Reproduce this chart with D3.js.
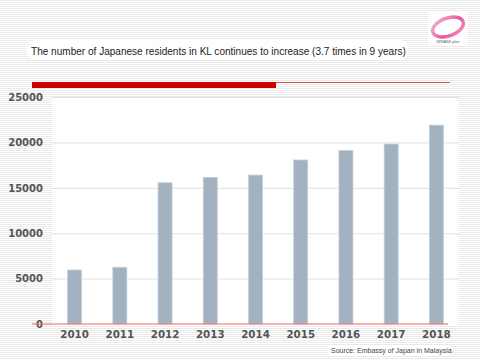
<!DOCTYPE html>
<html><head><meta charset="utf-8">
<script src="https://cdn.jsdelivr.net/npm/d3@7"></script>
<style>html,body{margin:0;padding:0;background:#fff}svg{display:block}</style>
</head><body>
<svg id="c" width="480" height="360"></svg>
<script>
const years = ["2010","2011","2012","2013","2014","2015","2016","2017","2018"];
const residents = [5950, 6250, 15560, 16150, 16400, 18060, 19100, 19820, 21900];
const yTicks = [0, 5000, 10000, 15000, 20000, 25000];
const titleText = "The number of Japanese residents in KL continues to increase (3.7 times in 9 years)";
const sourceText = "Source: Embassy of Japan in Malaysia";

const svg = d3.select("#c");
const defs = svg.append("defs");
const pat = defs.append("pattern").attr("id","stripes").attr("patternUnits","userSpaceOnUse").attr("width",4).attr("height",2);
pat.append("rect").attr("width",4).attr("height",2).attr("fill","#ffffff");
pat.append("rect").attr("width",4).attr("height",1).attr("fill","#e9e9e9");
svg.append("rect").attr("width",480).attr("height",360).attr("fill","url(#stripes)");

const m = {left:52, right:459, top:97, bottom:324};
const x = d3.scaleBand().domain(years).range([m.left, m.right]).paddingInner(0.69).paddingOuter(0.345);
const y = d3.scaleLinear().domain([0,25000]).range([m.bottom, m.top]);

// plot area
svg.append("rect").attr("x",m.left).attr("y",m.top).attr("width",m.right-m.left).attr("height",m.bottom-m.top+2).attr("fill","#fff");

// gridlines
svg.append("g").selectAll("line").data(yTicks.filter(d=>d>0)).join("line")
  .attr("x1",m.left).attr("x2",m.right).attr("y1",d=>y(d)+0.5).attr("y2",d=>y(d)+0.5)
  .attr("stroke","#e2e2e2").attr("stroke-width",1);

// y axis labels
const yAxis = d3.axisLeft(y).tickValues(yTicks).tickSize(0).tickPadding(9).tickFormat(d3.format("d"));
const gy = svg.append("g").attr("transform",`translate(${m.left},0)`).call(yAxis);
gy.select(".domain").remove();
gy.selectAll("text").attr("font-family","Verdana, 'DejaVu Sans', sans-serif").attr("font-weight","bold")
  .attr("font-size","10px").attr("fill","#555");

// bars
svg.append("g").selectAll("rect").data(residents).join("rect")
  .attr("x",(d,i)=>x(years[i])).attr("width",x.bandwidth())
  .attr("y",d=>y(d)).attr("height",d=>y(0)-y(d))
  .attr("fill","#a3b2c1").attr("stroke","#c5cfda").attr("stroke-width",0.8);

// zero line
svg.append("line").attr("x1",32).attr("x2",448).attr("y1",y(0)).attr("y2",y(0))
  .attr("stroke","#ea6a6a").attr("stroke-width",1.2);

// x axis labels
const xAxis = d3.axisBottom(x).tickSize(0).tickPadding(7);
const gx = svg.append("g").attr("transform",`translate(0,${m.bottom})`).call(xAxis);
gx.select(".domain").remove();
gx.selectAll("text").attr("font-family","Verdana, 'DejaVu Sans', sans-serif").attr("font-weight","bold")
  .attr("font-size","10.3px").attr("fill","#555");

// title box
svg.append("rect").attr("x",27).attr("y",40).attr("width",381).attr("height",20).attr("rx",8).attr("fill","#fff").attr("opacity",0.95);
svg.append("text").attr("x",31).attr("y",55).text(titleText)
  .attr("font-family","Arial, 'Liberation Sans', sans-serif").attr("font-size","10.05px").attr("fill","#222");

// red header bar
svg.append("rect").attr("x",32).attr("y",82).attr("width",244).attr("height",6).attr("fill","#cc0000");
svg.append("line").attr("x1",276).attr("x2",450).attr("y1",82.5).attr("y2",82.5).attr("stroke","#e05050").attr("stroke-width",1);

// source
svg.append("rect").attr("x",328).attr("y",345).attr("width",122).attr("height",10).attr("fill","#fff");
svg.append("text").attr("x",331).attr("y",353).text(sourceText)
  .attr("font-family","Arial, 'Liberation Sans', sans-serif").attr("font-size","7px").attr("fill","#444");

// logo
const lg = svg.append("g");
lg.append("rect").attr("x",428).attr("y",12).attr("width",40).attr("height",34).attr("fill","#fff");
const grad = defs.append("linearGradient").attr("id","pink").attr("x1","0").attr("y1","0").attr("x2","1").attr("y2","1");
grad.append("stop").attr("offset","0").attr("stop-color","#f6b6d3");
grad.append("stop").attr("offset","0.6").attr("stop-color","#e9559a");
grad.append("stop").attr("offset","1").attr("stop-color","#f39ac2");
lg.append("ellipse").attr("cx",448).attr("cy",27).attr("rx",16).attr("ry",9).attr("transform","rotate(-20,448,27)")
  .attr("fill","none").attr("stroke","url(#pink)").attr("stroke-width",3.5);
lg.append("text").attr("x",448).attr("y",43).attr("text-anchor","middle").text("MINAMI plan")
  .attr("font-family","Arial, sans-serif").attr("font-size","4px").attr("fill","#666");
</script>
</body></html>
